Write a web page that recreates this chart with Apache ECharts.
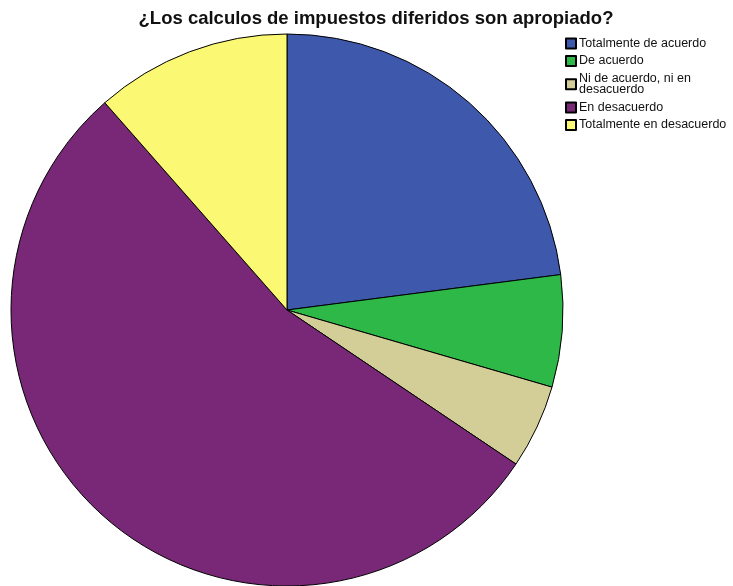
<!DOCTYPE html>
<html><head><meta charset="utf-8">
<script src="https://cdn.jsdelivr.net/npm/echarts@6/dist/echarts.min.js"></script>
<style>html,body{margin:0;padding:0;background:#fff}#c{width:733px;height:586px}</style>
</head><body><div id="c"></div>
<script>
const categories = ["Totalmente de acuerdo","De acuerdo","Ni de acuerdo, ni en desacuerdo","En desacuerdo","Totalmente en desacuerdo"];
const values = [14, 4, 3, 33, 7];
const colors = ["#3E58AC","#2EB848","#D3CE97","#782877","#FBF873"];
const chart = echarts.init(document.getElementById('c'));
chart.setOption({
  animation: false,
  title: {
    text: "¿Los calculos de impuestos diferidos son apropiado?",
    left: 376, top: 9, textAlign: 'center', padding: 0,
    textStyle: {fontFamily: 'Liberation Sans, Arial', fontSize: 18.5, fontWeight: 'bold', color: '#111'}
  },
  legend: {
    orient: 'vertical', left: 565, top: 37, padding: 0,
    itemWidth: 10, itemHeight: 10, itemGap: 4.5,
    icon: 'rect',
    formatter: function(n){ return n === "Ni de acuerdo, ni en desacuerdo" ? "Ni de acuerdo, ni en\ndesacuerdo" : n; },
    textStyle: {fontFamily: 'Liberation Sans, Arial', fontSize: 12.5, color: '#111', lineHeight: 11.5, padding: [0,0,0,-2]},
    data: categories
  },
  series: [{
    type: 'pie',
    center: [287, 310], radius: 276,
    startAngle: 90, clockwise: true,
    label: {show: false}, labelLine: {show: false},
    emphasis: {disabled: true},
    itemStyle: {borderColor: '#000', borderWidth: 1},
    data: categories.map((c,i)=>({name: c, value: values[i], itemStyle: {color: colors[i]}}))
  }]
});
</script></body></html>
